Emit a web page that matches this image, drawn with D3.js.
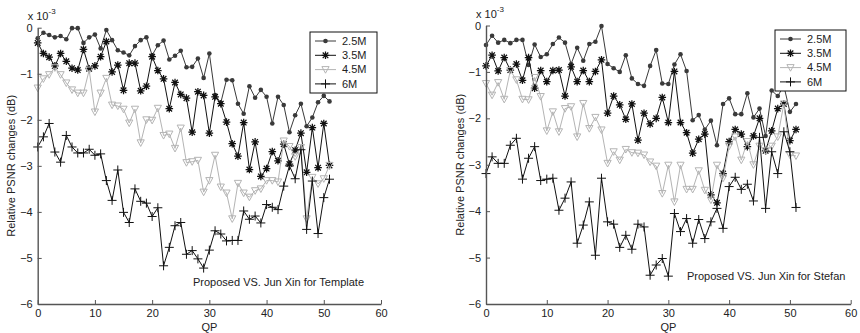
<!DOCTYPE html>
<html>
<head>
<meta charset="utf-8">
<script src="https://cdn.jsdelivr.net/npm/d3@7"></script>
<style>
  body { margin: 0; background: #fff; }
  svg { font-family: "Liberation Sans", Arial, sans-serif; }
</style>
</head>
<body>
<div id="chart"></div>
<script>
// QP values on the x axis
const qp = [0,1,2,3,4,5,6,7,8,9,10,11,12,13,14,15,16,17,18,19,20,21,22,23,24,25,
  26,27,28,29,30,31,32,33,34,35,36,37,38,39,40,41,42,43,44,45,46,47,48,49,50,51];

const seriesNames = ["2.5M", "3.5M", "4.5M", "6M"];
const xTicks = [0, 10, 20, 30, 40, 50, 60];
const yTicks = [0, -1, -2, -3, -4, -5, -6];

// Template (values in units of 1e-3 dB)
const template25 = [-0.23,-0.11,-0.16,-0.21,-0.18,-0.25,-0.01,-0.01,-0.33,-0.21,-0.15,-0.45,-0.05,-0.27,-0.49,-0.54,-0.60,-0.40,-0.27,-0.21,-0.60,-0.38,-0.28,-0.69,-0.61,-0.50,-0.86,-0.85,-0.67,-1.09,-0.56,-1.46,-1.63,-1.13,-1.14,-1.65,-1.87,-1.27,-1.52,-1.35,-1.50,-2.08,-1.50,-1.68,-2.27,-1.90,-1.65,-2.14,-1.95,-1.62,-1.48,-1.60];
const template35 = [-0.33,-0.56,-0.64,-0.83,-0.56,-0.73,-0.88,-0.92,-0.47,-0.89,-0.83,-0.63,-0.30,-0.96,-0.81,-1.36,-0.77,-0.77,-1.37,-1.27,-0.63,-0.93,-1.11,-1.76,-1.19,-1.45,-1.53,-2.27,-1.39,-1.47,-2.29,-1.50,-1.65,-2.05,-2.52,-2.79,-2.06,-3.08,-2.48,-3.23,-3.06,-2.69,-2.89,-2.53,-2.96,-2.66,-2.29,-3.14,-2.17,-3.04,-2.08,-2.99];
const template45 = [-1.31,-1.11,-1.02,-0.87,-1.02,-1.20,-1.35,-1.42,-1.42,-0.92,-1.83,-1.42,-1.10,-1.68,-1.70,-1.77,-2.07,-1.77,-2.50,-2.00,-2.01,-1.75,-2.34,-2.31,-2.62,-2.18,-2.93,-2.91,-2.88,-3.57,-3.32,-2.77,-3.46,-3.59,-4.15,-3.38,-3.59,-3.68,-3.54,-3.50,-3.32,-3.32,-3.35,-2.46,-2.58,-2.80,-2.60,-4.15,-3.25,-3.39,-3.28,-2.99];
const template6 = [-2.59,-2.37,-2.08,-2.70,-2.92,-2.34,-2.59,-2.72,-2.72,-2.64,-2.77,-2.74,-3.32,-3.75,-3.09,-4.01,-4.23,-3.50,-3.77,-3.81,-4.10,-3.91,-5.17,-4.77,-4.30,-4.23,-4.92,-4.84,-5.02,-5.22,-4.83,-4.41,-4.48,-4.63,-4.62,-4.62,-3.98,-4.16,-4.09,-4.24,-3.84,-3.90,-3.95,-3.44,-3.00,-3.28,-2.65,-4.38,-3.33,-4.47,-3.69,-3.29];

// Stefan
const stefan25 = [-0.42,-0.22,-0.37,-0.31,-0.38,-0.31,-0.31,-0.85,-0.41,-0.68,-0.62,-0.40,-0.26,-0.37,-0.83,-0.48,-0.76,-0.40,-0.35,-0.01,-0.83,-0.92,-1.00,-0.64,-1.14,-1.26,-1.30,-0.87,-0.53,-1.25,-1.26,-0.84,-0.62,-0.98,-2.04,-1.93,-2.24,-2.05,-2.58,-1.69,-1.57,-1.91,-1.91,-1.46,-1.98,-1.79,-2.38,-1.40,-1.52,-1.30,-1.86,-1.69];
const stefan35 = [-0.87,-0.64,-0.98,-0.69,-0.96,-0.83,-1.18,-0.69,-1.35,-0.97,-1.21,-0.97,-0.96,-1.52,-0.89,-1.21,-0.97,-1.21,-0.99,-0.74,-1.89,-1.52,-1.71,-2.02,-1.69,-2.47,-1.89,-2.12,-2.00,-1.55,-2.09,-0.99,-2.09,-2.31,-2.75,-2.45,-2.34,-3.65,-3.82,-3.19,-2.50,-2.24,-2.34,-2.61,-2.38,-2.00,-2.70,-2.27,-1.79,-1.69,-2.48,-2.24];
const stefan45 = [-1.25,-1.50,-1.23,-1.59,-0.97,-1.17,-1.59,-1.60,-1.12,-1.53,-2.27,-1.86,-2.29,-1.79,-1.75,-2.40,-1.68,-2.22,-1.98,-2.25,-2.97,-2.72,-2.90,-2.67,-2.74,-2.75,-2.79,-2.94,-3.03,-3.62,-3.01,-3.80,-3.01,-3.53,-3.53,-3.13,-3.55,-3.76,-3.01,-3.29,-2.60,-2.40,-2.90,-2.50,-3.00,-2.60,-2.70,-2.60,-2.40,-1.69,-2.79,-2.81];
const stefan6 = [-3.19,-2.83,-2.97,-2.97,-2.58,-2.43,-3.31,-2.86,-2.61,-3.34,-3.31,-3.29,-3.98,-3.72,-3.37,-4.69,-4.30,-3.80,-4.95,-3.29,-4.23,-4.28,-4.78,-4.52,-4.82,-4.28,-4.34,-5.38,-5.16,-5.02,-5.40,-4.05,-4.44,-4.16,-4.69,-4.18,-4.59,-4.23,-3.94,-4.37,-3.47,-3.27,-3.53,-3.42,-3.78,-2.41,-3.94,-2.72,-3.19,-2.29,-2.72,-3.92];

const styles = [
  { color: "#3a3a3a", marker: "dot" },
  { color: "#111", marker: "star" },
  { color: "#b4b4b4", marker: "tri" },
  { color: "#111", marker: "plus" }
];

const markerPath = {
  star: "M-3.8,0H3.8M0,-3.8V3.8M-2.8,-2.8L2.8,2.8M-2.8,2.8L2.8,-2.8",
  tri: "M-3.6,-3L3.6,-3L0,3.6Z",
  plus: "M-4.5,0H4.5M0,-4.5V4.5"
};

const svg = d3.select("#chart").append("svg")
  .attr("width", 860)
  .attr("height", 333);

function drawPanel(p) {
  const x = d3.scaleLinear().domain([0, 60]).range([p.x0, p.x1]);
  const y = d3.scaleLinear().domain([-6, 0]).range([p.yb, p.yt]);
  const g = svg.append("g");

  const line = d3.line().x((d, i) => x(qp[i])).y(d => y(d));

  p.series.forEach((vals, k) => {
    const st = styles[k];
    g.append("path")
      .attr("d", line(vals))
      .attr("fill", "none")
      .attr("stroke", st.color)
      .attr("stroke-width", 1);

    const m = g.append("g").selectAll("g")
      .data(vals)
      .enter().append("g")
        .attr("transform", (d, i) => `translate(${x(qp[i])},${y(d)})`);
    if (st.marker === "dot") {
      m.append("circle").attr("r", 2.3).attr("fill", st.color);
    } else {
      m.append("path")
        .attr("d", markerPath[st.marker])
        .attr("fill", "none")
        .attr("stroke", st.color)
        .attr("stroke-width", st.marker === "star" ? 1.25 : 1);
    }
  });

  // axes, ticks pointing in
  const ax = g.append("g")
    .attr("transform", `translate(0,${p.yb})`)
    .call(d3.axisBottom(x).tickValues(xTicks).tickSizeInner(-4).tickSizeOuter(0).tickPadding(5));
  const ay = g.append("g")
    .attr("transform", `translate(${p.x0},0)`)
    .call(d3.axisLeft(y).tickValues(yTicks).tickSizeInner(-4).tickSizeOuter(0).tickPadding(5).tickFormat(d3.format("d")));
  [ax, ay].forEach(a => {
    a.select(".domain").attr("stroke", "#555").attr("stroke-width", 1.4);
    a.selectAll(".tick line").attr("stroke", "#555");
    a.selectAll("text").attr("font-size", 11).attr("fill", "#222")
      .attr("font-family", "Liberation Sans, Arial, sans-serif");
  });

  // exponent label
  const ex = g.append("text")
    .attr("x", p.x0 - 10)
    .attr("y", p.yt - 8)
    .attr("font-size", 11)
    .attr("fill", "#222")
    .text("x 10");
  ex.append("tspan").attr("dy", -6).attr("font-size", 8).text("-3");

  g.append("text")
    .attr("transform", `translate(${p.ylabX},${(p.yt + p.yb) / 2}) rotate(-90)`)
    .attr("text-anchor", "middle")
    .attr("font-size", 11)
    .attr("fill", "#222")
    .text("Relative PSNR changes (dB)");

  g.append("text")
    .attr("x", x(30))
    .attr("y", 331)
    .attr("text-anchor", "middle")
    .attr("font-size", 11)
    .attr("fill", "#222")
    .text("QP");

  g.append("text")
    .attr("x", p.noteX)
    .attr("y", p.noteY)
    .attr("font-size", 11)
    .attr("fill", "#222")
    .text(p.note);

  // legend
  const lg = g.append("g").attr("transform", `translate(${p.legX},${p.legY})`);
  lg.append("rect")
    .attr("width", p.legW).attr("height", 61)
    .attr("fill", "#fff").attr("stroke", "#111").attr("stroke-width", 1);
  seriesNames.forEach((name, k) => {
    const st = styles[k];
    const row = lg.append("g").attr("transform", `translate(0,${9 + k * 14.3})`);
    row.append("line").attr("x1", 5).attr("x2", 26)
      .attr("stroke", st.color).attr("stroke-width", 1);
    const mk = row.append("g").attr("transform", "translate(15.5,0)");
    if (st.marker === "dot") mk.append("circle").attr("r", 2.3).attr("fill", st.color);
    else mk.append("path").attr("d", markerPath[st.marker]).attr("fill", "none")
      .attr("stroke", st.color).attr("stroke-width", st.marker === "star" ? 1.25 : 1);
    row.append("text").attr("x", 32).attr("dy", "0.35em")
      .attr("font-size", 11).attr("fill", "#222").text(name);
  });
}

drawPanel({
  x0: 37.7, x1: 381, yt: 27.7, yb: 304, ylabX: 15,
  series: [template25, template35, template45, template6],
  note: "Proposed VS. Jun Xin for Template", noteX: 193, noteY: 286,
  legX: 310, legY: 32, legW: 67
});

drawPanel({
  x0: 486, x1: 850.7, yt: 25.5, yb: 304, ylabX: 464,
  series: [stefan25, stefan35, stefan45, stefan6],
  note: "Proposed VS. Jun Xin for Stefan", noteX: 687, noteY: 280,
  legX: 775, legY: 30, legW: 71
});
</script>
</body>
</html>
